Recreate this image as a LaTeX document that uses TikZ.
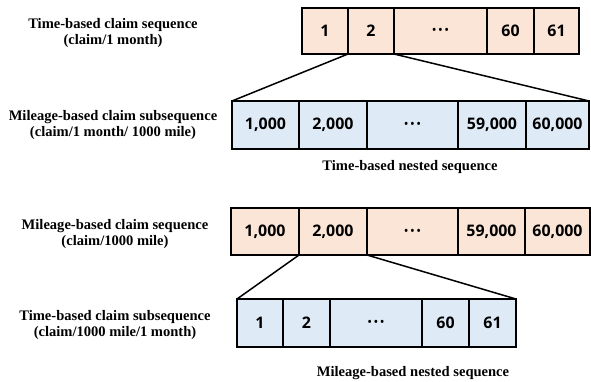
\documentclass[tikz,border=0pt]{standalone}
\usepackage{fontspec}
\setmainfont{Liberation Serif}
\newfontfamily\cellfont{Open Sans}
\definecolor{peach}{HTML}{FBE5D6}
\definecolor{paleblue}{HTML}{DEEBF7}
\tikzset{
  cell/.style={draw=black, line width=1.8bp, anchor=north west, inner sep=0pt, outer sep=0pt,
    font=\cellfont\fontsize{16}{18}\selectfont\bfseries},
  peachcell/.style={cell, fill=peach},
  bluecell/.style={cell, fill=paleblue},
  caption/.style={align=center, font=\fontsize{14.6}{17}\selectfont\bfseries},
  link/.style={line width=1.5bp}
}
% three bold dots for the elided cells
\newcommand{\elided}{{\fontsize{10}{12}\selectfont •\hspace{2.5bp}•\hspace{2.5bp}•}}
\begin{document}
\begin{tikzpicture}[x=1bp, y=-1bp]
\useasboundingbox (0,0) rectangle (591,381);

% time-based claim sequence
\node[peachcell, minimum width=46bp, minimum height=46bp] (t1) at (302,8) {1};
\node[peachcell, minimum width=46bp, minimum height=46bp] (t2) at (348,8) {2};
\node[peachcell, minimum width=93bp, minimum height=46bp] (tdots) at (394,8) {\elided};
\node[peachcell, minimum width=47bp, minimum height=46bp] (t60) at (487,8) {60};
\node[peachcell, minimum width=45bp, minimum height=46bp] (t61) at (534,8) {61};
\node[caption] (tlabel) at (113,33) {Time-based claim sequence\\(claim/1 month)};

% mileage-based claim subsequence
\node[bluecell, minimum width=67bp, minimum height=48bp] (s1) at (232,101) {1,000};
\node[bluecell, minimum width=68bp, minimum height=48bp] (s2) at (299,101) {2,000};
\node[bluecell, minimum width=91bp, minimum height=48bp] (sdots) at (367,101) {\elided};
\node[bluecell, minimum width=68bp, minimum height=48bp] (s59) at (458,101) {59,000};
\node[bluecell, minimum width=63bp, minimum height=48bp] (s60) at (526,101) {60,000};
\node[caption] (slabel) at (113,125) {Mileage-based claim subsequence\\(claim/1 month/ 1000 mile)};
\node[caption] (tnested) at (410,167) {Time-based nested sequence};

\draw[link] (t2.south west) -- (s1.north west);
\draw[link] (tdots.south west) -- (s60.north east);

% mileage-based claim sequence
\node[peachcell, minimum width=68bp, minimum height=47bp] (m1) at (231,208) {1,000};
\node[peachcell, minimum width=68bp, minimum height=47bp] (m2) at (299,208) {2,000};
\node[peachcell, minimum width=91bp, minimum height=47bp] (mdots) at (367,208) {\elided};
\node[peachcell, minimum width=67bp, minimum height=47bp] (m59) at (458,208) {59,000};
\node[peachcell, minimum width=65bp, minimum height=47bp] (m60) at (525,208) {60,000};
\node[caption] (mlabel) at (115,234) {Mileage-based claim sequence\\(claim/1000 mile)};

% time-based claim subsequence
\node[bluecell, minimum width=46bp, minimum height=48bp] (u1) at (237,299) {1};
\node[bluecell, minimum width=47bp, minimum height=48bp] (u2) at (283,299) {2};
\node[bluecell, minimum width=92bp, minimum height=48bp] (udots) at (330,299) {\elided};
\node[bluecell, minimum width=47bp, minimum height=48bp] (u60) at (422,299) {60};
\node[bluecell, minimum width=47bp, minimum height=48bp] (u61) at (469,299) {61};
\node[caption] (ulabel) at (115,325) {Time-based claim subsequence\\(claim/1000 mile/1 month)};
\node[caption] (mnested) at (413,373) {Mileage-based nested sequence};

\draw[link] (m2.south west) -- (u1.north west);
\draw[link] (mdots.south west) -- (u61.north east);
\end{tikzpicture}
\end{document}
